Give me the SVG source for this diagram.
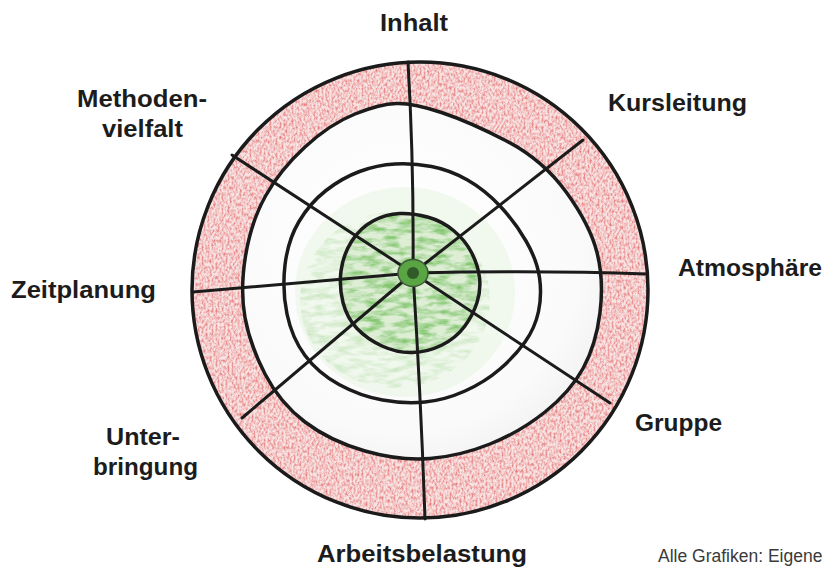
<svg xmlns="http://www.w3.org/2000/svg" width="825" height="567" viewBox="0 0 825 567">
  <style>
    .lbl { font-family: "Liberation Sans", Arial, sans-serif; font-weight: bold; font-size: 23px; fill: #1c1c1c; }
    .credit { font-family: "Liberation Sans", Arial, sans-serif; font-size: 17.5px; fill: #3a3a3a; }
    .ring { fill: none; stroke: #1b1b1b; stroke-width: 3.5; stroke-linejoin: round; }
    .spoke { fill: none; stroke: #1b1b1b; stroke-width: 3; stroke-linecap: round; }
  </style>
  <defs>
    <radialGradient id="discShade" cx="400" cy="250" r="260" gradientUnits="userSpaceOnUse">
      <stop offset="0" stop-color="#ffffff"/>
      <stop offset="0.7" stop-color="#fafafa"/>
      <stop offset="1" stop-color="#ececec"/>
    </radialGradient>
    <filter id="crayon" x="0" y="0" width="825" height="567" filterUnits="userSpaceOnUse">
      <feTurbulence type="fractalNoise" baseFrequency="0.5 0.3" numOctaves="3" seed="4" result="noise"/>
      <feColorMatrix in="noise" type="matrix" values="0 0 0 0 0  0 0 0 0 0  0 0 0 0 0  2.2 0 0 0 -0.85" result="mask"/>
      <feComposite in="SourceGraphic" in2="mask" operator="in"/>
    </filter>
    <filter id="crayonG" x="0" y="0" width="825" height="567" filterUnits="userSpaceOnUse">
      <feTurbulence type="fractalNoise" baseFrequency="0.06 0.18" numOctaves="3" seed="9" result="noise"/>
      <feColorMatrix in="noise" type="matrix" values="0 0 0 0 0  0 0 0 0 0  0 0 0 0 0  2.4 0 0 0 -0.9" result="mask"/>
      <feComposite in="SourceGraphic" in2="mask" operator="in"/>
    </filter>
  </defs>

  <rect width="825" height="567" fill="#ffffff"/>

  <g id="disc">
    <circle cx="420" cy="290" r="228" fill="url(#discShade)"/>
    <path fill="#f8e2e2" fill-rule="evenodd" d="M192,290 A228,228 0 1,0 648,290 A228,228 0 1,0 192,290 Z M396.5,103.5 Q413,103 441.5,112.5 Q470,122 506.5,141 Q543,160 566.5,192.5 Q590,225 597,252.5 Q604,280 600,312.5 Q596,345 583,368.5 Q570,392 545,412 Q520,432 490,444 Q460,456 430,458.5 Q400,461 365,451 Q330,441 305,422 Q280,403 265,374 Q250,345 245,317.5 Q240,290 245.5,256 Q251,222 265.5,196 Q280,170 305,147 Q330,124 355,114 Q380,104 396.5,103.5 Z"/>
    <g filter="url(#crayon)">
      <path fill="#e06060" opacity="0.8" fill-rule="evenodd" d="M192,290 A228,228 0 1,0 648,290 A228,228 0 1,0 192,290 Z M396.5,103.5 Q413,103 441.5,112.5 Q470,122 506.5,141 Q543,160 566.5,192.5 Q590,225 597,252.5 Q604,280 600,312.5 Q596,345 583,368.5 Q570,392 545,412 Q520,432 490,444 Q460,456 430,458.5 Q400,461 365,451 Q330,441 305,422 Q280,403 265,374 Q250,345 245,317.5 Q240,290 245.5,256 Q251,222 265.5,196 Q280,170 305,147 Q330,124 355,114 Q380,104 396.5,103.5 Z"/>
    </g>
    <ellipse cx="405" cy="292" rx="110" ry="105" fill="#eef6ea" opacity="0.8"/>
    <path fill="#ddeed5" d="M399.5,213.5 Q413,213 427.5,217 Q442,221 453.5,230.5 Q465,240 471.5,252.5 Q478,265 479.5,277.5 Q481,290 477,302.5 Q473,315 464.5,326.5 Q456,338 442,345 Q428,352 412.5,352.5 Q397,353 382,346 Q367,339 357,328.5 Q347,318 343,302.5 Q339,287 341,271 Q343,255 351.5,241.5 Q360,228 373,221 Q386,214 399.5,213.5 Z"/>
    <g filter="url(#crayonG)">
      <path fill="#6dbb57" opacity="0.8" d="M399.5,213.5 Q413,213 427.5,217 Q442,221 453.5,230.5 Q465,240 471.5,252.5 Q478,265 479.5,277.5 Q481,290 477,302.5 Q473,315 464.5,326.5 Q456,338 442,345 Q428,352 412.5,352.5 Q397,353 382,346 Q367,339 357,328.5 Q347,318 343,302.5 Q339,287 341,271 Q343,255 351.5,241.5 Q360,228 373,221 Q386,214 399.5,213.5 Z"/>
      <ellipse cx="395" cy="300" rx="95" ry="88" fill="#8ccc78" opacity="0.35"/>
    </g>
  </g>

  <g id="rings">
    <circle class="ring" cx="420" cy="290" r="228"/>
    <path class="ring" d="M396.5,103.5 Q413,103 441.5,112.5 Q470,122 506.5,141 Q543,160 566.5,192.5 Q590,225 597,252.5 Q604,280 600,312.5 Q596,345 583,368.5 Q570,392 545,412 Q520,432 490,444 Q460,456 430,458.5 Q400,461 365,451 Q330,441 305,422 Q280,403 265,374 Q250,345 245,317.5 Q240,290 245.5,256 Q251,222 265.5,196 Q280,170 305,147 Q330,124 355,114 Q380,104 396.5,103.5 Z"/>
    <path class="ring" d="M395,164 Q413,163 431.5,166.5 Q450,170 467.5,180 Q485,190 500,206 Q515,222 526,241 Q537,260 539.5,277.5 Q542,295 538.5,311.5 Q535,328 525,342 Q515,356 500,369 Q485,382 465,391 Q445,400 425,402 Q405,404 382.5,400 Q360,396 339,384.5 Q318,373 305,355.5 Q292,338 287,314 Q282,290 285,265 Q288,240 299,221.5 Q310,203 326,190.5 Q342,178 359.5,171.5 Q377,165 395,164 Z"/>
    <path class="ring" d="M399.5,213.5 Q413,213 427.5,217 Q442,221 453.5,230.5 Q465,240 471.5,252.5 Q478,265 479.5,277.5 Q481,290 477,302.5 Q473,315 464.5,326.5 Q456,338 442,345 Q428,352 412.5,352.5 Q397,353 382,346 Q367,339 357,328.5 Q347,318 343,302.5 Q339,287 341,271 Q343,255 351.5,241.5 Q360,228 373,221 Q386,214 399.5,213.5 Z"/>
  </g>

  <g id="connectors">
    <path class="spoke" d="M413,273 Q414,165 408,62"/>
    <path class="spoke" d="M413,273 L583,140"/>
    <path class="spoke" d="M413,273 Q540,270 647,274"/>
    <path class="spoke" d="M413,273 L610,403"/>
    <path class="spoke" d="M413,273 Q421,400 425,519"/>
    <path class="spoke" d="M413,273 L242,418"/>
    <path class="spoke" d="M413,273 L193,292"/>
    <path class="spoke" d="M413,273 L232,155"/>
  </g>

  <g id="centre">
    <ellipse cx="413" cy="273" rx="15" ry="13.5" fill="#5aa543" stroke="#3d5a36" stroke-width="1.5"/>
    <circle cx="413" cy="273" r="6" fill="#1f3a1c" opacity="0.7"/>
  </g>

  <g id="label-inhalt"><text class="lbl" x="380" y="31" textLength="68" lengthAdjust="spacingAndGlyphs">Inhalt</text></g>
  <g id="label-methodenvielfalt">
    <text class="lbl" x="77" y="107" textLength="130" lengthAdjust="spacingAndGlyphs">Methoden-</text>
    <text class="lbl" x="102" y="137" textLength="81" lengthAdjust="spacingAndGlyphs">vielfalt</text>
  </g>
  <g id="label-kursleitung"><text class="lbl" x="608" y="111" textLength="139" lengthAdjust="spacingAndGlyphs">Kursleitung</text></g>
  <g id="label-atmosphaere"><text class="lbl" x="678" y="276" textLength="144" lengthAdjust="spacingAndGlyphs">Atmosphäre</text></g>
  <g id="label-zeitplanung"><text class="lbl" x="11" y="298" textLength="145" lengthAdjust="spacingAndGlyphs">Zeitplanung</text></g>
  <g id="label-gruppe"><text class="lbl" x="635" y="431" textLength="87" lengthAdjust="spacingAndGlyphs">Gruppe</text></g>
  <g id="label-unterbringung">
    <text class="lbl" x="106" y="445" textLength="74" lengthAdjust="spacingAndGlyphs">Unter-</text>
    <text class="lbl" x="93" y="475" textLength="105" lengthAdjust="spacingAndGlyphs">bringung</text>
  </g>
  <g id="label-arbeitsbelastung"><text class="lbl" x="317" y="562" textLength="210" lengthAdjust="spacingAndGlyphs">Arbeitsbelastung</text></g>
  <g id="credit"><text class="credit" x="658" y="562">Alle Grafiken: Eigene</text></g>
</svg>
